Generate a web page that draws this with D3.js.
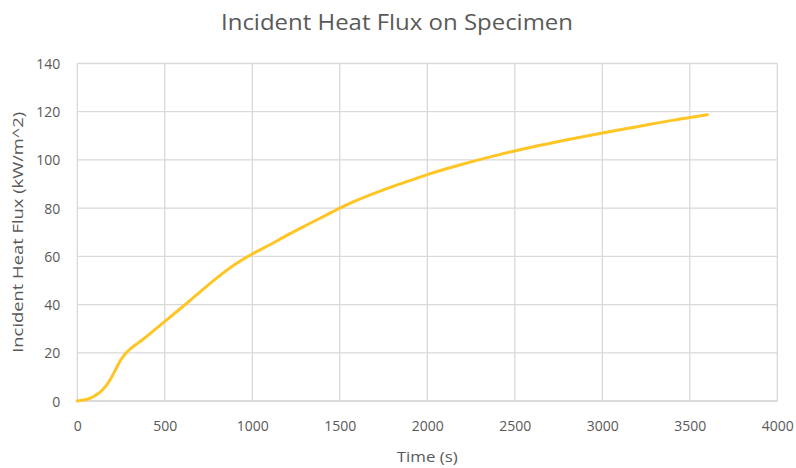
<!DOCTYPE html>
<html>
<head>
<meta charset="utf-8">
<script src="https://cdn.jsdelivr.net/npm/d3@7"></script>
<style>
  html, body { margin: 0; padding: 0; background: #fff; }
  svg { display: block; }
  text { font-family: "Open Sans", "Noto Sans", sans-serif; fill: #595959; }
</style>
</head>
<body>
<svg id="chart" width="796" height="468"></svg>
<script>
const chartTitle = "Incident Heat Flux on Specimen";
const xAxisTitle = "Time (s)";
const yAxisTitle = "Incident Heat Flux (kW/m^2)";

const timeSeconds = [0, 25, 50, 75, 100, 125, 150, 175, 200, 225, 250, 275, 300, 350, 400, 450, 500, 600, 700, 800, 900, 1000, 1100, 1200, 1300, 1400, 1500, 1600, 1700, 1800, 1900, 2000, 2200, 2400, 2600, 2800, 3000, 3200, 3400, 3600];
const heatFlux   = [0, 0.3, 0.6, 1.2, 2.2, 3.4, 5.1, 7.4, 10.4, 13.9, 17.2, 19.6, 21.4, 24.2, 27.0, 30.0, 33.0, 39.0, 45.2, 51.2, 56.6, 61.0, 64.8, 68.8, 72.6, 76.3, 80.0, 83.3, 86.2, 88.9, 91.4, 93.9, 98.2, 102.0, 105.4, 108.4, 111.2, 113.8, 116.4, 118.7];

const xTicks = [0, 500, 1000, 1500, 2000, 2500, 3000, 3500, 4000];
const yTicks = [0, 20, 40, 60, 80, 100, 120, 140];

const data = timeSeconds.map((t, i) => ({ t, v: heatFlux[i] }));

const svg = d3.select("#chart");
const plot = { left: 77.3, right: 777.3, top: 63.5, bottom: 401 };

const x = d3.scaleLinear().domain([0, 4000]).range([plot.left, plot.right]);
const y = d3.scaleLinear().domain([0, 140]).range([plot.bottom, plot.top]);

// gridlines
const grid = svg.append("g").attr("stroke", "#d9d9d9").attr("stroke-width", 1.3).attr("fill", "none");
grid.selectAll("line.h").data(yTicks).enter().append("line")
  .attr("x1", plot.left).attr("x2", plot.right)
  .attr("y1", d => y(d)).attr("y2", d => y(d));
grid.selectAll("line.v").data(xTicks).enter().append("line")
  .attr("y1", plot.top).attr("y2", plot.bottom)
  .attr("x1", d => x(d)).attr("x2", d => x(d));

// axes (labels only, using d3 axes)
const xAxis = d3.axisBottom(x).tickValues(xTicks).tickSize(0).tickPadding(0).tickFormat(d3.format("d"));
const gx = svg.append("g").attr("transform", `translate(0,${plot.bottom})`).call(xAxis);
gx.select(".domain").remove();
gx.selectAll("text").attr("y", 30).attr("dy", 0)
  .style("font-size", "14px").style("font-family", '"Open Sans", sans-serif').attr("fill", "#595959");

const yAxis = d3.axisLeft(y).tickValues(yTicks).tickSize(0).tickPadding(17).tickFormat(d3.format("d"));
const gy = svg.append("g").attr("transform", `translate(${plot.left},0)`).call(yAxis);
gy.select(".domain").remove();
gy.selectAll("text").attr("dy", "0.36em")
  .style("font-size", "14px").style("font-family", '"Open Sans", sans-serif').attr("fill", "#595959");

// bottom axis line
svg.append("line")
  .attr("x1", plot.left).attr("x2", plot.right)
  .attr("y1", plot.bottom).attr("y2", plot.bottom)
  .attr("stroke", "#d9d9d9").attr("stroke-width", 1.3);

// series line
const line = d3.line().x(d => x(d.t)).y(d => y(d.v)).curve(d3.curveMonotoneX);
svg.append("path").datum(data)
  .attr("d", line)
  .attr("fill", "none")
  .attr("stroke", "#ffc524")
  .attr("stroke-width", 3)
  .attr("stroke-linejoin", "round")
  .attr("stroke-linecap", "round");

// title
svg.append("text")
  .attr("x", 397).attr("y", 30)
  .attr("text-anchor", "middle")
  .attr("textLength", 352).attr("lengthAdjust", "spacingAndGlyphs")
  .style("font-size", "21px")
  .text(chartTitle);

// x axis title
svg.append("text")
  .attr("x", (plot.left + plot.right) / 2).attr("y", 462)
  .attr("text-anchor", "middle")
  .attr("textLength", 61).attr("lengthAdjust", "spacingAndGlyphs")
  .style("font-size", "15px")
  .text(xAxisTitle);

// y axis title
svg.append("text")
  .attr("transform", `translate(23,${(plot.top + plot.bottom) / 2}) rotate(-90)`)
  .attr("text-anchor", "middle")
  .attr("textLength", 241).attr("lengthAdjust", "spacingAndGlyphs")
  .style("font-size", "15px")
  .text(yAxisTitle);
</script>
</body>
</html>
